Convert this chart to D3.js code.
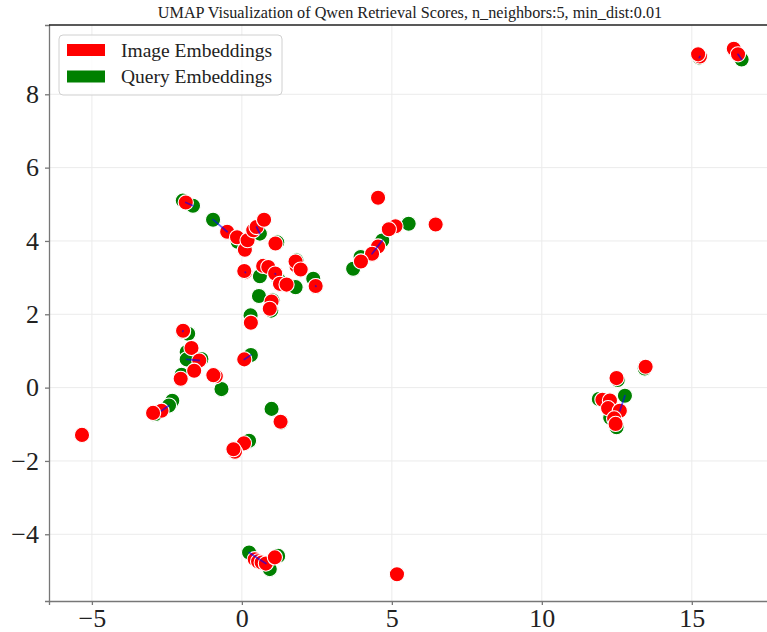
<!DOCTYPE html>
<html>
<head>
<meta charset="utf-8">
<script src="https://cdn.jsdelivr.net/npm/d3@7"></script>
<style>
  body { margin: 0; background: #fff; }
  svg { display: block; font-family: "Liberation Serif", "DejaVu Serif", serif; }
  .grid line { stroke: #ebebeb; stroke-width: 1; }
  .axis path, .axis line { stroke: #777; stroke-width: 1.3; }
  .axis text { fill: #222; font-size: 26px; font-family: "Liberation Serif", "DejaVu Serif", serif; }
</style>
</head>
<body>
<svg width="767" height="632"></svg>
<script>
// image embeddings (red)
var imageX = [-1.87, -0.49, -0.16, 0.10, 0.19, 0.38, 0.49, 0.74, 1.12, 0.11, 0.08, 0.71, 0.88, 1.11, 1.27, 1.49, 1.82, 1.79, 1.96, 2.46,
  0.99, 0.93, 0.30, -1.96, 4.54, 6.46, 5.12, 4.90, 4.54, 4.34, 3.97, -1.68, -1.42, -1.59, -2.04, -0.87, -0.95, 0.08, -2.68, -2.96,
  1.29, 0.07, -0.23, -0.28, -5.33, 5.17, 15.27, 15.21, 16.40, 16.54, 13.46, 12.49, 12.02, 12.27, 12.21, 12.60, 12.41, 12.46,
  0.43, 0.54, 0.66, 0.80, 1.10];
var imageY = [5.05, 4.25, 4.10, 3.76, 4.02, 4.29, 4.38, 4.58, 3.93, 3.15, 3.18, 3.32, 3.29, 3.11, 2.83, 2.81, 3.32, 3.44, 3.22, 2.77,
  2.35, 2.15, 1.77, 1.55, 5.18, 4.45, 4.40, 4.32, 3.85, 3.65, 3.44, 1.08, 0.74, 0.46, 0.24, 0.31, 0.34, 0.77, -0.63, -0.69,
  -0.93, -1.52, -1.75, -1.68, -1.29, -5.09, 9.03, 9.09, 9.24, 9.09, 0.57, 0.26, -0.33, -0.35, -0.56, -0.63, -0.84, -0.99,
  -4.68, -4.74, -4.77, -4.80, -4.63];

// query embeddings (green)
var queryX = [-1.97, -1.63, -0.96, -0.14, 0.60, 1.18, 0.60, 1.22, 1.79, 1.82, 2.38, 0.57, 1.02, 0.98, 0.29, -1.79, 4.68, 5.56, 3.96, 3.71,
  -1.84, -1.84, -1.35, -2.01, -0.68, 0.30, -2.32, -2.43, -2.88, 0.99, 0.24, 1.31, 13.43, 12.53, 11.90, 12.77, 12.28, 12.49,
  0.24, 0.93, 1.21, 16.66, 15.25, -5.33, 5.17, 4.54, 6.46, 0.12, 1.12, 2.47, -1.97];
var queryY = [5.10, 4.96, 4.58, 3.98, 4.20, 3.96, 3.04, 2.95, 2.74, 3.47, 2.97, 2.50, 2.38, 2.10, 1.97, 1.47, 4.01, 4.47, 3.56, 3.24,
  0.97, 0.77, 0.78, 0.35, -0.04, 0.89, -0.36, -0.49, -0.72, -0.58, -1.45, -0.95, 0.52, 0.21, -0.31, -0.22, -0.82, -1.08,
  -4.50, -4.95, -4.59, 8.95, 9.00, -1.29, -5.09, 5.18, 4.45, 3.14, 3.10, 2.76, 1.53];

// retrieval links: query index -> image index
var linkQuery = [1, 2, 4, 16, 21, 25, 27, 35, 38, 41, 47, 48, 49, 50, 42];
var linkImage = [0, 1, 6, 29, 32, 37, 38, 55, 61, 49, 9, 13, 19, 23, 46];

var ticksX = [-5, 0, 5, 10, 15];
var ticksY = [-4, -2, 0, 2, 4, 6, 8];

var svg = d3.select("svg");
var mLeft = 49, mRight = 771, mTop = 25, mBottom = 601;

var x = d3.scaleLinear().domain([-6.43, 17.64]).range([mLeft, mRight]);
var y = d3.scaleLinear().domain([-5.82, 9.89]).range([mBottom, mTop]);

var images = imageX.map(function(v, i) { return {x: v, y: imageY[i]}; });
var queries = queryX.map(function(v, i) { return {x: v, y: queryY[i]}; });
var links = linkQuery.map(function(q, i) { return {q: queries[q], im: images[linkImage[i]]}; });

// grid
var grid = svg.append("g").attr("class", "grid");
grid.selectAll(".gx").data(ticksX).enter().append("line")
    .attr("x1", function(d) { return x(d); }).attr("x2", function(d) { return x(d); })
    .attr("y1", mTop).attr("y2", mBottom);
grid.selectAll(".gy").data(ticksY).enter().append("line")
    .attr("y1", function(d) { return y(d); }).attr("y2", function(d) { return y(d); })
    .attr("x1", mLeft).attr("x2", mRight);

// points: queries first, then images on top
svg.append("g").selectAll("circle")
    .data(queries).enter().append("circle")
    .attr("cx", function(d) { return x(d.x); })
    .attr("cy", function(d) { return y(d.y); })
    .attr("r", 7.6)
    .attr("fill", "green")
    .attr("stroke", "#fff").attr("stroke-width", 1.1);

svg.append("g").selectAll("circle")
    .data(images).enter().append("circle")
    .attr("cx", function(d) { return x(d.x); })
    .attr("cy", function(d) { return y(d.y); })
    .attr("r", 7.6)
    .attr("fill", "red")
    .attr("stroke", "#fff").attr("stroke-width", 1.1);

// links
svg.append("g").selectAll("line")
    .data(links).enter().append("line")
    .attr("x1", function(d) { return x(d.q.x); })
    .attr("y1", function(d) { return y(d.q.y); })
    .attr("x2", function(d) { return x(d.im.x); })
    .attr("y2", function(d) { return y(d.im.y); })
    .attr("stroke", "blue").attr("stroke-opacity", 0.6)
    .attr("stroke-width", 1.8).attr("stroke-linecap", "round");

// axes
var fmt = function(d) { return d < 0 ? "\u2212" + Math.abs(d) : d; };
svg.append("g").attr("class", "axis")
    .attr("transform", "translate(0," + mBottom + ")")
    .call(d3.axisBottom(x).tickValues(ticksX).tickSize(4).tickPadding(4).tickFormat(fmt));

svg.append("g").attr("class", "axis")
    .attr("transform", "translate(" + mLeft + ",0)")
    .call(d3.axisLeft(y).tickValues(ticksY).tickSize(4).tickPadding(6).tickFormat(fmt));

svg.append("line").attr("x1", mLeft).attr("x2", mRight).attr("y1", mTop).attr("y2", mTop)
    .attr("stroke", "#222").attr("stroke-width", 1.3);

// title
svg.append("text")
    .attr("x", (mLeft + mRight) / 2).attr("y", 18)
    .attr("text-anchor", "middle")
    .attr("font-size", 16.2).attr("fill", "#222")
    .text("UMAP Visualization of Qwen Retrieval Scores, n_neighbors:5, min_dist:0.01");

// legend
var legend = svg.append("g").attr("transform", "translate(59,35)");
legend.append("rect")
    .attr("width", 223).attr("height", 60).attr("rx", 4)
    .attr("fill", "#fff").attr("fill-opacity", 0.8)
    .attr("stroke", "#d0d0d0");
var entries = [{label: "Image Embeddings", color: "red"}, {label: "Query Embeddings", color: "green"}];
entries.forEach(function(e, i) {
  legend.append("rect").attr("x", 8).attr("y", 9 + i * 26.5)
      .attr("width", 38).attr("height", 12).attr("fill", e.color);
  legend.append("text").attr("x", 62).attr("y", 21.5 + i * 26.5)
      .attr("font-size", 19.5).attr("fill", "#222").text(e.label);
});
</script>
</body>
</html>
